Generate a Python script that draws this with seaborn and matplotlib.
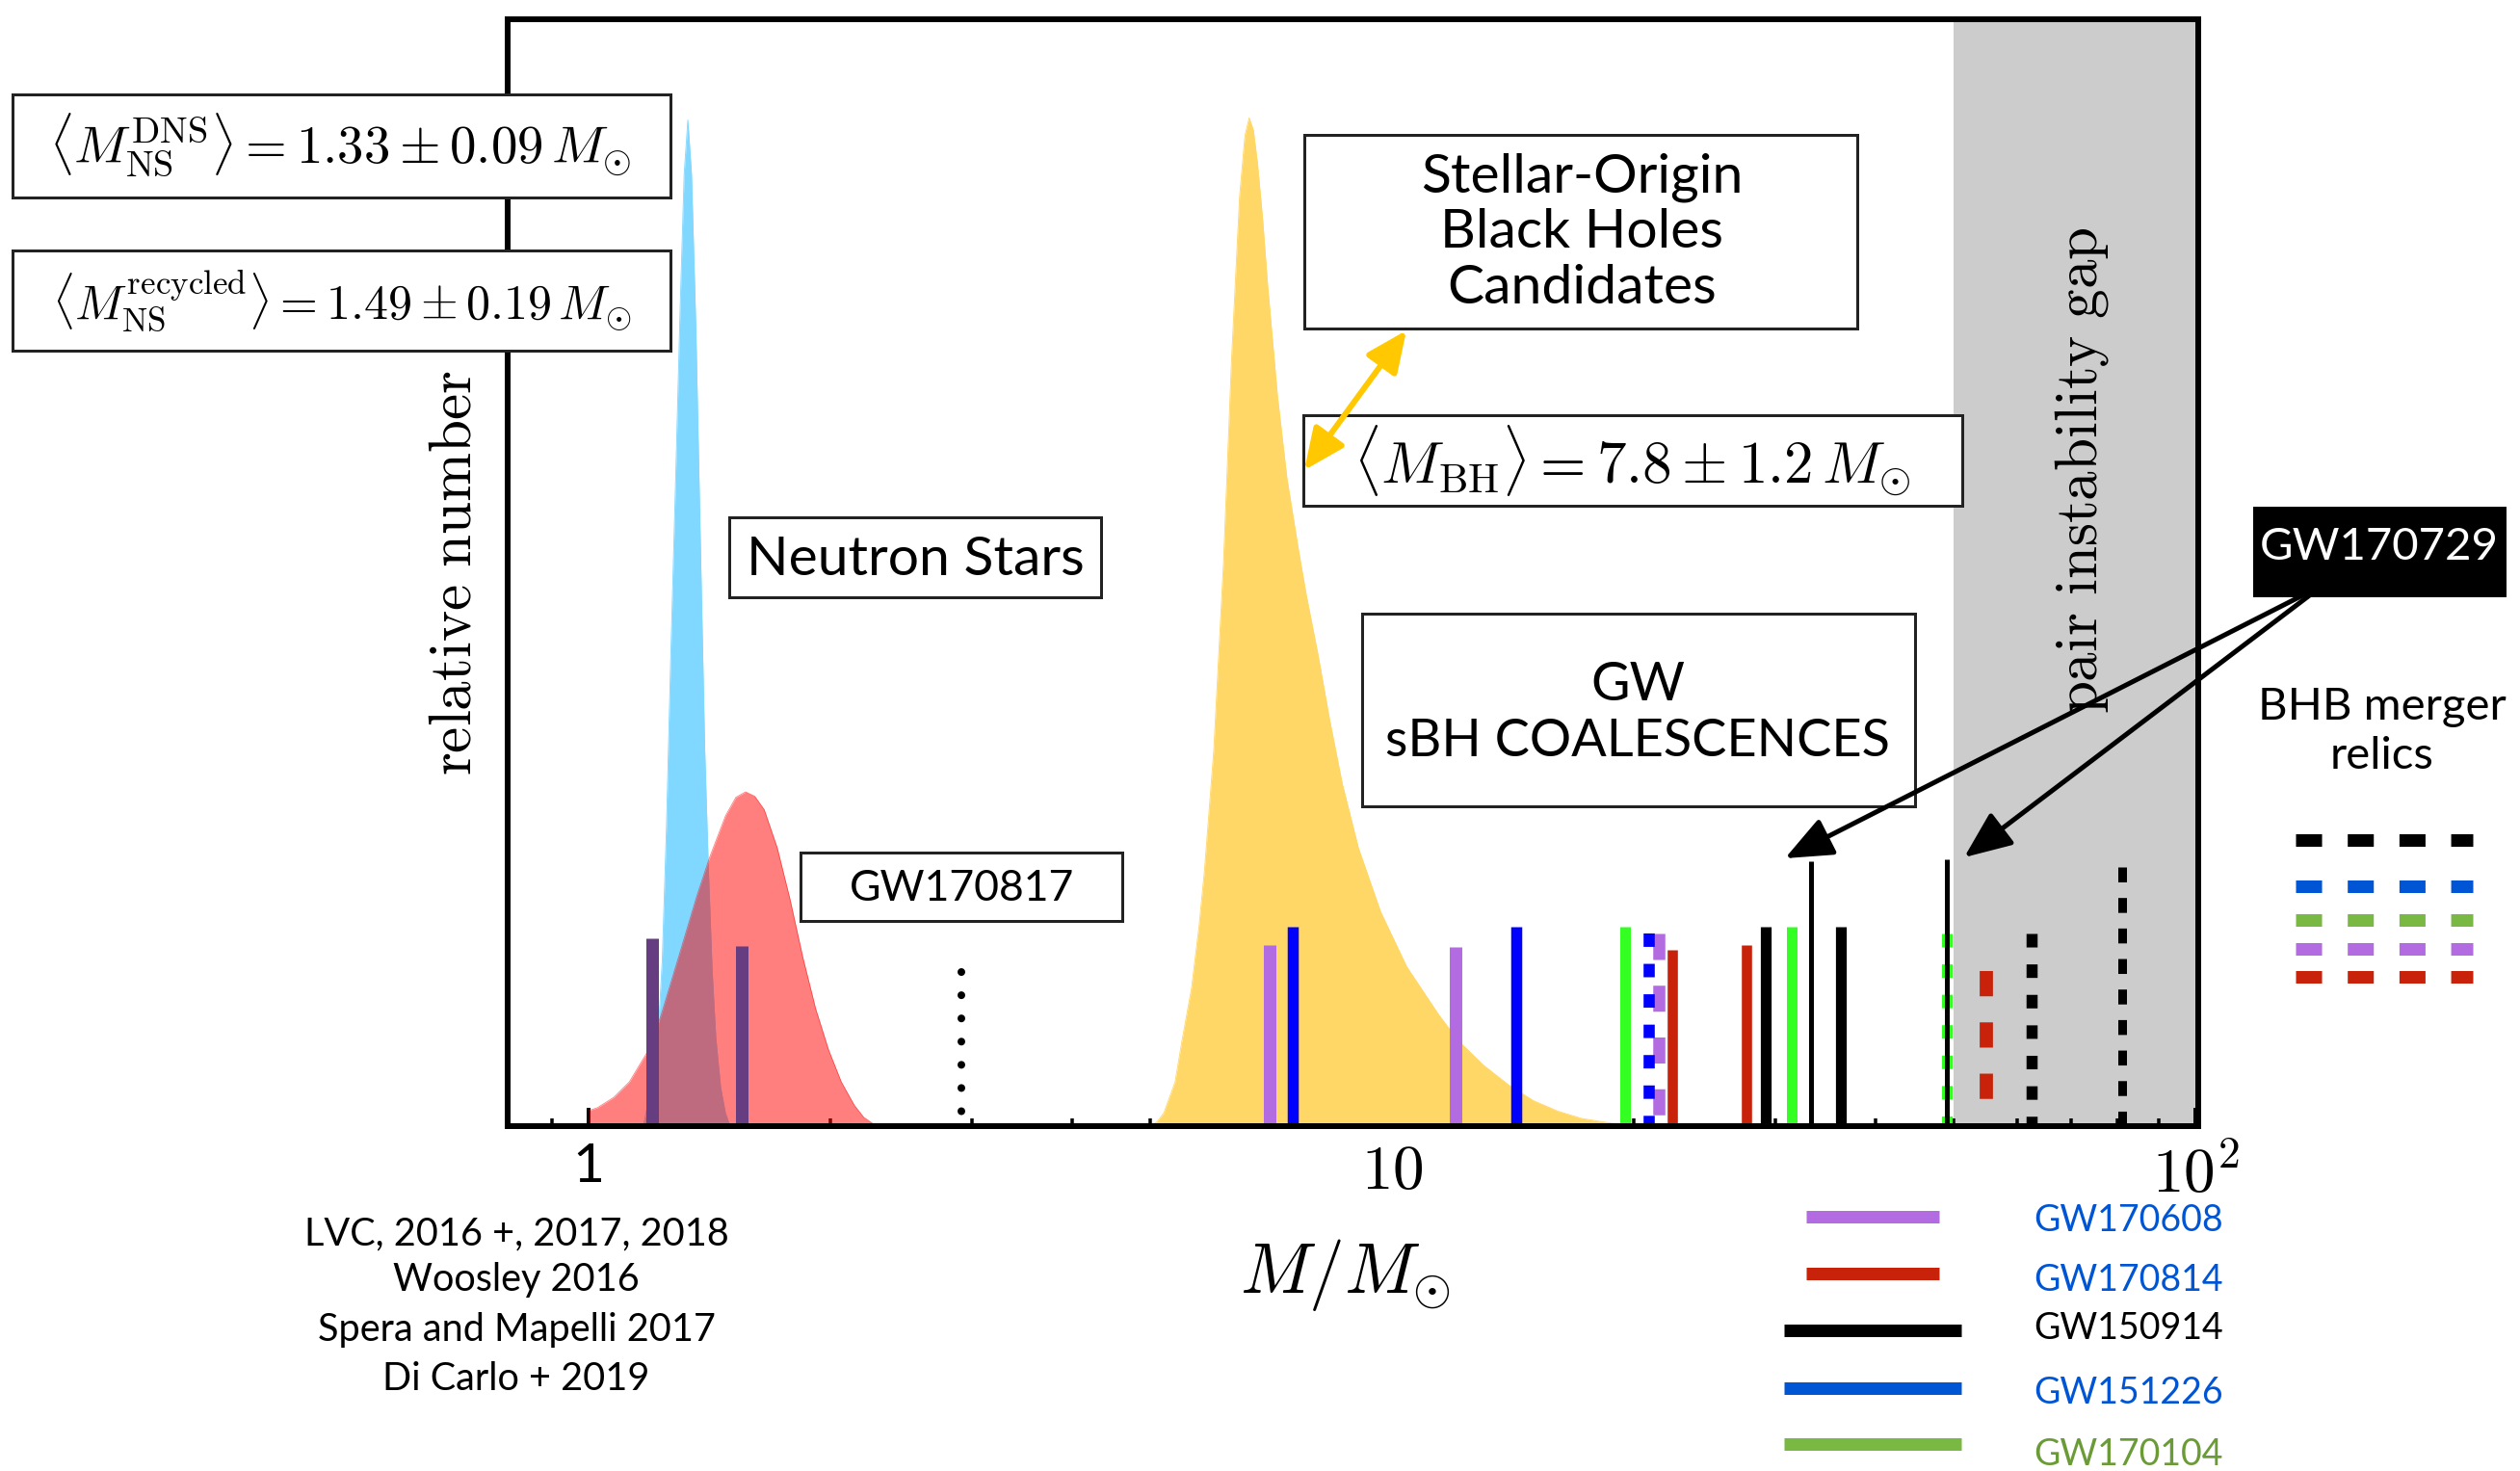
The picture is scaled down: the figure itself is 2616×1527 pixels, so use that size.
import matplotlib
matplotlib.use("Agg")
import matplotlib.pyplot as plt
from matplotlib import font_manager
from matplotlib.lines import Line2D
from matplotlib.patches import Rectangle, FancyArrowPatch
from matplotlib.ticker import NullFormatter
import pandas as pd
import seaborn as sns

# ---------------------------------------------------------------------------
# Mass distributions: M / M_sun  vs  relative number
# ---------------------------------------------------------------------------
ns_dns_mass = [1.17, 1.20, 1.22, 1.235, 1.25, 1.265, 1.285, 1.30, 1.315, 1.329,
               1.343, 1.36, 1.38, 1.395, 1.41, 1.425, 1.44, 1.46, 1.48, 1.50]
ns_dns_rel = [0.0, 0.04, 0.08, 0.15, 0.27, 0.42, 0.60, 0.74, 0.86, 0.909,
              0.86, 0.72, 0.50, 0.339, 0.23, 0.14, 0.08, 0.035, 0.012, 0.0]

ns_rec_mass = [1.00, 1.025, 1.075, 1.124, 1.188, 1.232, 1.302, 1.364, 1.415, 1.481,
               1.525, 1.568, 1.61, 1.654, 1.717, 1.781, 1.847, 1.917, 1.989, 2.063,
               2.141, 2.20, 2.262, 2.32]
ns_rec_rel = [0.014, 0.0165, 0.026, 0.040, 0.069, 0.101, 0.159, 0.208, 0.243, 0.2805,
              0.297, 0.302, 0.298, 0.286, 0.2515, 0.205, 0.153, 0.106, 0.069, 0.040,
              0.019, 0.008, 0.002, 0.0]

bh_mass = [5.00, 5.10, 5.20, 5.37, 5.47, 5.63, 5.75, 5.84, 6.00, 6.17, 6.31, 6.46,
           6.56, 6.64, 6.72, 6.80, 6.90, 7.00, 7.20, 7.40, 7.65, 7.82, 8.09, 8.36,
           8.67, 9.08, 9.68, 10.43, 11.43, 12.08, 13.0, 13.99, 15.0, 16.06, 17.2,
           18.44, 20.0]
bh_rel = [0.0, 0.004, 0.012, 0.040, 0.075, 0.125, 0.18, 0.23, 0.34, 0.51, 0.69, 0.84,
          0.895, 0.911, 0.90, 0.87, 0.82, 0.76, 0.66, 0.585, 0.52, 0.48, 0.4256, 0.3675,
          0.3095, 0.2515, 0.1935, 0.144, 0.1007, 0.0775, 0.055, 0.0368, 0.023, 0.0137,
          0.007, 0.0035, 0.0]

# ---------------------------------------------------------------------------
# Compact objects from gravitational-wave events
# ---------------------------------------------------------------------------
gw170817_mass = [1.20, 1.55]
gw170817_rel = [0.170, 0.163]

event_names = ["GW170608", "GW151226", "GW170104", "GW170814", "GW150914", "GW170729"]
primary_mass = [12.0, 14.28, 31.4, 27.6, 36.2, 49.1]
primary_rel = [0.162, 0.180, 0.180, 0.164, 0.180, 0.2415]
secondary_mass = [7.04, 7.52, 19.5, 22.3, 29.2, 33.2]
secondary_rel = [0.164, 0.180, 0.180, 0.159, 0.180, 0.239]
remnant_mass = [21.5, 20.9, 49.1, 54.9, 62.5, 81.1]
remnant_rel = [0.174, 0.174, 0.174, 0.140, 0.174, 0.234]

mass_gap_edge = 2.91
mass_gap_rel = 0.139
pair_gap_lower = 50.0

legend_events = ["GW170608", "GW170814", "GW150914", "GW151226", "GW170104"]
reference_lines = ["LVC, 2016 +, 2017, 2018", "Woosley 2016",
                   "Spera and Mapelli 2017", "Di Carlo + 2019"]

# ---------------------------------------------------------------------------
# Styling
# ---------------------------------------------------------------------------
W_PX, H_PX, DPI = 2616, 1527, 100
PX = 72.0 / DPI  # points per pixel

PURPLE, BLUE, GREEN, RED, BLACK = "#b26be0", "#0000ff", "#33ff22", "#c8230a", "#000000"
event_style = {
    #            colour  solid px  remnant px  remnant dashes (x lw)
    "GW170608": (PURPLE, 13.0, 12.5, (2.16, 2.14)),
    "GW151226": (BLUE, 11.5, 11.6, (1.20, 1.52)),
    "GW170104": (GREEN, 11.0, 11.0, (1.27, 1.60)),
    "GW170814": (RED, 10.6, 13.8, (1.90, 1.96)),
    "GW150914": (BLACK, 11.2, 11.5, (1.22, 1.53)),
    "GW170729": (BLACK, 5.0, 9.0, (1.72, 1.80)),
}
legend_line_colors = ["#b26be0", "#c8230a", "#000000", "#0055d4", "#7ab844"]
legend_text_colors = ["#0055d4", "#0055d4", "#000000", "#0055d4", "#6b9b37"]
relic_colors = ["#000000", "#0055d4", "#7ab844", "#b26be0", "#c8230a"]

sns.set_theme(style="white")
plt.rcParams["font.family"] = ["Lato", "DejaVu Sans"]
plt.rcParams["mathtext.fontset"] = "cm"

# a narrow face for the key and the reference list, if one is installed
_installed = {f.name for f in font_manager.fontManager.ttflist}
if "Liberation Sans Narrow" in _installed:
    NARROW, KEY_SIZE, REF_SIZE = ["Liberation Sans Narrow", "DejaVu Sans"], 32, 32
else:
    NARROW, KEY_SIZE, REF_SIZE = ["Lato", "DejaVu Sans"], 27, 28.5


def fig_xy(x, y):
    """Pixel position (origin top-left) to figure fraction."""
    return x / W_PX, 1.0 - y / H_PX


fig = plt.figure(figsize=(W_PX / DPI, H_PX / DPI), dpi=DPI)
fig.patch.set_facecolor("white")
ax = fig.add_axes([527 / W_PX, 1 - 1169 / H_PX, (2282 - 527) / W_PX, (1169 - 20) / H_PX])
ax.set_facecolor("white")
ax.set_xscale("log")
ax.set_xlim(0.793, 100.8)
ax.set_ylim(0, 1)

# pair-instability region
ax.axvspan(pair_gap_lower, 1000, color="#cccccc", lw=0, zorder=0)

# mass distributions
curves = [
    ("DNS", ns_dns_mass, ns_dns_rel, "#80d7ff", 1.0),
    ("recycled", ns_rec_mass, ns_rec_rel, "#ff0101", 0.5),
    ("BH", bh_mass, bh_rel, "#ffd766", 1.0),
]
for name, m, r, col, alpha in curves:
    df = pd.DataFrame({"mass": m, "rel": r})
    ax.fill_between(df["mass"], 0, df["rel"], color=col, alpha=alpha, lw=0, zorder=1)
    sns.lineplot(data=df, x="mass", y="rel", ax=ax, color=col, alpha=alpha, lw=0.6,
                 sort=False, estimator=None, legend=False, zorder=1)


def vline(m, top, color, width_px, dashes=None, z=3, cap="butt"):
    kw = dict(color=color, lw=width_px * PX, solid_capstyle="butt", zorder=z, clip_on=False)
    if dashes is not None:
        kw.update(dashes=dashes, dash_capstyle=cap)
    ax.plot([m, m], [top, 0], **kw)


# GW170817 neutron stars
for m, r in zip(gw170817_mass, gw170817_rel):
    vline(m, r, "#663d80", 13.0)

# lower mass gap edge
ax.plot([mass_gap_edge, mass_gap_edge], [mass_gap_rel, 0.012], color="black",
        lw=8 * PX, dashes=(0.01, 3.0), dash_capstyle="round", zorder=3)

# binary black hole components and remnants
for i, ev in enumerate(event_names):
    col, w_solid, w_rem, dash = event_style[ev]
    z = 4 if ev == "GW170729" else 3
    vline(remnant_mass[i], remnant_rel[i], col, w_rem, dashes=dash, z=3)
    vline(primary_mass[i], primary_rel[i], col, w_solid, z=z)
    vline(secondary_mass[i], secondary_rel[i], col, w_solid, z=z)

# axes frame and ticks
for sp in ax.spines.values():
    sp.set_visible(True)
    sp.set_color("black")
    sp.set_linewidth(6 * PX)
    sp.set_zorder(6)
ax.set_yticks([])
ax.set_xticks([1, 10, 100], labels=["1", r"$10$", r"$10^{2}$"])
ax.set_xticks([0.9] + list(range(2, 10)) + list(range(20, 100, 10)), minor=True)
ax.xaxis.set_minor_formatter(NullFormatter())
ax.tick_params(axis="x", which="major", direction="in", length=19 * PX, width=4 * PX,
               color="black", bottom=True, top=False, pad=12, labelsize=47,
               labelcolor="black")
ax.tick_params(axis="x", which="minor", direction="in", length=8 * PX, width=3.5 * PX,
               color="black", bottom=True, top=False)
ax.get_xticklabels()[0].set_fontsize(41)

ax.set_xlabel(r"$M/M_{\odot}$", fontsize=53, color="black")
ax.xaxis.set_label_coords((1396 - 527) / 1755, (1169 - 1284) / 1149)
ax.set_ylabel(r"$\mathrm{relative\ number}$", fontsize=44, color="black", va="center")
ax.yaxis.set_label_coords((471 - 527) / 1755, (1169 - 595) / 1149)

ax.text((2161 - 527) / 1755, (1169 - 488) / 1149, r"$\mathrm{pair\ instability\ gap}$",
        transform=ax.transAxes, rotation=90, ha="center", va="center", fontsize=44,
        color="black", zorder=5)

# ---------------------------------------------------------------------------
# Annotation boxes
# ---------------------------------------------------------------------------
def box(x0, y0, x1, y1, face="white", edge="#222222"):
    fx0, fy1 = fig_xy(x0, y1)
    rect = Rectangle((fx0, fy1), (x1 - x0) / W_PX, (y1 - y0) / H_PX,
                     transform=fig.transFigure, facecolor=face, edgecolor=edge,
                     lw=3 * PX, zorder=5)
    fig.add_artist(rect)


def label(x, y, s, size, color="black", ha="center", va="baseline", **kw):
    fx, fy = fig_xy(x, y)
    fig.text(fx, fy, s, ha=ha, va=va, fontsize=size, color=color, zorder=7, **kw)


box(13, 98, 696, 205)
label(353, 151, r"$\langle M_{\rm NS}^{\rm DNS}\rangle = 1.33 \pm 0.09\,M_{\odot}$", 39.5,
      va="center")
box(13, 260, 696, 364)
label(355, 312, r"$\langle M_{\rm NS}^{\rm recycled}\rangle = 1.49 \pm 0.19\,M_{\odot}$", 36,
      va="center")

box(1354, 140, 1928, 341)
for text, yy in zip(["Stellar-Origin", "Black Holes", "Candidates"], [199, 257, 315]):
    label(1642, yy, text, 41)

box(1353, 431, 2037, 525)
label(1694, 478, r"$\langle M_{\rm BH}\rangle = 7.8 \pm 1.2\,M_{\odot}$", 44, va="center")

box(757, 537, 1143, 620)
label(950, 597, "Neutron Stars", 41)

box(831, 885, 1165, 956)
label(998, 935, "GW170817", 32)

box(1414, 637, 1988, 837)
label(1700, 727, "GW", 40)
label(1700, 785, "sBH COALESCENCES", 39)

box(2340, 527, 2600, 618, face="black", edge="black")
label(2470, 581, "GW170729", 34, color="white")

label(2473, 747, "BHB merger", 34)
label(2473, 798, "relics", 34)

# arrows
arr = FancyArrowPatch(fig_xy(1460, 343), fig_xy(1354, 488), transform=fig.transFigure,
                      arrowstyle="<|-|>,head_length=1.0,head_width=0.45",
                      mutation_scale=26, color="#ffc800", lw=6 * PX,
                      shrinkA=0, shrinkB=0, zorder=8)
fig.add_artist(arr)
for tip in [(1853, 891), (2039, 890)]:
    a = FancyArrowPatch(fig_xy(2412, 607), fig_xy(*tip), transform=fig.transFigure,
                        arrowstyle="-|>,head_length=1.0,head_width=0.42",
                        mutation_scale=30, color="black", lw=5 * PX,
                        shrinkA=0, shrinkB=0, zorder=8)
    fig.add_artist(a)

# merger relic key
for col, yy in zip(relic_colors, [872, 920, 955, 985, 1014]):
    fx0, fy = fig_xy(2383, yy)
    fx1, _ = fig_xy(2567, yy)
    fig.add_artist(Line2D([fx0, fx1], [fy, fy], transform=fig.transFigure, color=col,
                          lw=13 * PX, dashes=(2.08, 2.05), dash_capstyle="butt",
                          zorder=7))

# event key
key_rows = [(1875, 2013, 1263, 1278), (1875, 2013, 1322, 1340), (1852, 2036, 1381, 1390),
            (1852, 2036, 1441, 1457), (1852, 2036, 1499, 1521)]
for name, lc, tc, (x0, x1, yl, yt) in zip(legend_events, legend_line_colors,
                                          legend_text_colors, key_rows):
    fx0, fy = fig_xy(x0, yl)
    fx1, _ = fig_xy(x1, yl)
    fig.add_artist(Line2D([fx0, fx1], [fy, fy], transform=fig.transFigure, color=lc,
                          lw=13 * PX, solid_capstyle="butt", zorder=7))
    label(2111, yt, name, KEY_SIZE, color=tc, ha="left", family=NARROW)

# references
for text, yy in zip(reference_lines, [1292, 1340, 1392, 1443]):
    label(536, yy, text, REF_SIZE, family=NARROW)

fig.savefig("out.png", dpi=DPI, facecolor="white")
